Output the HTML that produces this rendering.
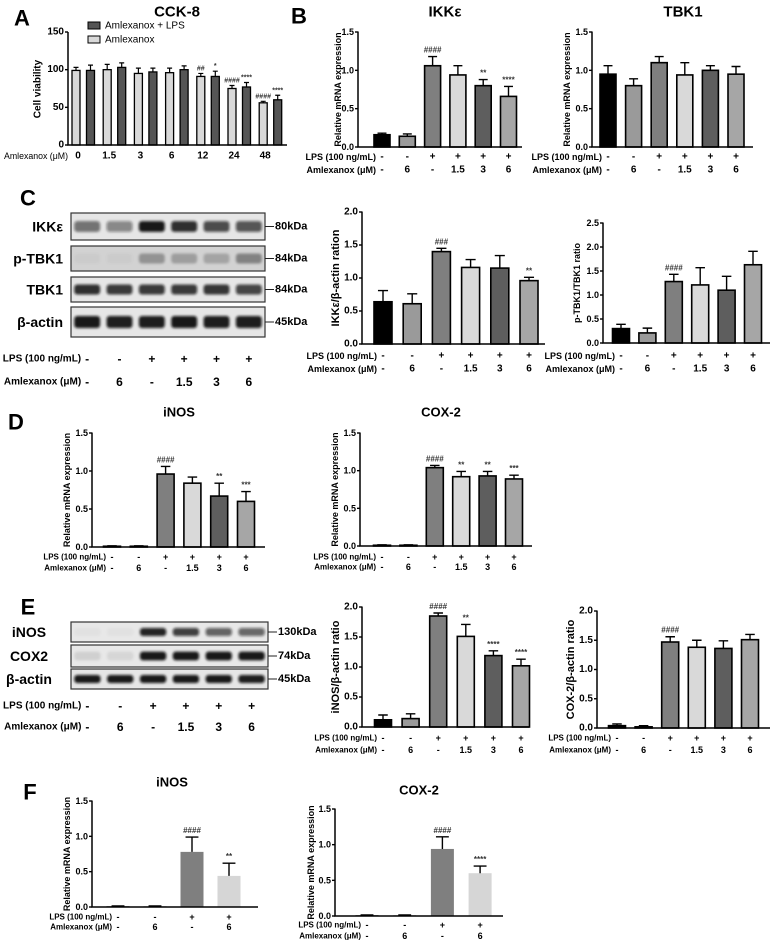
<!DOCTYPE html>
<html><head><meta charset="utf-8">
<style>
html,body{margin:0;padding:0;background:#fff;}
svg{display:block;font-family:"Liberation Sans",sans-serif;}
text{font-family:"Liberation Sans","DejaVu Sans",sans-serif;}
</style></head>
<body>
<svg id="fig" width="776" height="943" viewBox="0 0 776 943" xmlns="http://www.w3.org/2000/svg">
<defs><filter id="blur" x="-20%" y="-50%" width="140%" height="200%"><feGaussianBlur stdDeviation="1.4"/></filter></defs>
</svg>
<script>
// ---------- shared data ----------
const lps6 = ['-','-','+','+','+','+'];
const aml6 = ['-','6','-','1.5','3','6'];
const colors6 = ['#000000','#9a9a9a','#7f7f7f','#d9d9d9','#5e5e5e','#a6a6a6'];
const lps4 = ['-','-','+','+'];
const aml4 = ['-','6','-','6'];
const colors4 = ['#000000','#999999','#7f7f7f','#d6d6d6'];

// Panel A
const aCategories = ['0','1.5','3','6','12','24','48'];
const aLight = [99,100,95,96,91,75,56];
const aLightErr = [4,7,7,6,4,4,2];
const aDark = [99,103,97,100,91,77,60];
const aDarkErr = [7,6,5,5,7,6,6];
const aLightSig = ['','','','','##','####','####'];
const aDarkSig = ['','','','','*','****','****'];
const aTicks = [0,50,100,150];

// Panel B
const bIkkValues = [0.16,0.14,1.06,0.94,0.80,0.66];
const bIkkErrors = [0.02,0.03,0.12,0.12,0.08,0.13];
const bIkkSig = ['','','####','','**','****'];
const bTbkValues = [0.95,0.80,1.10,0.94,1.00,0.95];
const bTbkErrors = [0.11,0.09,0.08,0.16,0.06,0.10];
const bTbkSig = ['','','','','',''];
const ticks15 = [0,0.5,1.0,1.5];

// Panel C
const cIkkValues = [0.64,0.61,1.40,1.16,1.15,0.96];
const cIkkErrors = [0.17,0.15,0.05,0.12,0.19,0.05];
const cIkkSig = ['','','###','','','**'];
const ticks20 = [0,0.5,1.0,1.5,2.0];
const cTbkValues = [0.30,0.21,1.28,1.21,1.10,1.63];
const cTbkErrors = [0.09,0.10,0.15,0.36,0.29,0.28];
const cTbkSig = ['','','####','','',''];
const ticks25 = [0,0.5,1.0,1.5,2.0,2.5];
const cBlotIkk = [0.55,0.45,0.95,0.85,0.72,0.68];
const cBlotPtbk = [0.03,0.03,0.30,0.25,0.22,0.38];
const cBlotTbk = [0.85,0.80,0.80,0.80,0.82,0.75];
const cBlotActin = [0.95,0.92,0.93,0.95,0.93,0.93];

// Panel D
const dInosValues = [0.01,0.01,0.96,0.84,0.67,0.60];
const dInosErrors = [0.005,0.005,0.10,0.08,0.17,0.13];
const dInosSig = ['','','####','','**','***'];
const dCoxValues = [0.01,0.01,1.04,0.92,0.93,0.89];
const dCoxErrors = [0.005,0.005,0.03,0.07,0.06,0.05];
const dCoxSig = ['','','####','**','**','***'];

// Panel E
const eInosValues = [0.12,0.14,1.85,1.51,1.19,1.02];
const eInosErrors = [0.08,0.08,0.05,0.20,0.08,0.11];
const eInosSig = ['','','####','**','****','****'];
const eCoxValues = [0.04,0.02,1.47,1.38,1.36,1.51];
const eCoxErrors = [0.03,0.02,0.09,0.12,0.13,0.09];
const eCoxSig = ['','','####','','',''];
const eBlotInos = [0.03,0.03,0.90,0.78,0.62,0.60];
const eBlotCox = [0.10,0.08,0.95,0.95,0.95,0.95];
const eBlotActin = [0.95,0.95,0.95,0.95,0.95,0.93];

// Panel F
const fInosValues = [0.01,0.01,0.78,0.44];
const fInosErrors = [0.005,0.005,0.21,0.18];
const fInosSig = ['','','####','**'];
const fCoxValues = [0.01,0.01,0.94,0.60];
const fCoxErrors = [0.005,0.005,0.17,0.10];
const fCoxSig = ['','','####','****'];

// ---------- helpers ----------
const NS='http://www.w3.org/2000/svg';
const svg=document.getElementById('fig');
function mk(tag, attrs, parent){const e=document.createElementNS(NS,tag);for(const k in attrs)e.setAttribute(k,attrs[k]);(parent||svg).appendChild(e);return e;}
function txt(x,y,s,attrs,parent){const e=mk('text',Object.assign({x:x,y:y},attrs||{}),parent);e.textContent=s;return e;}
function label(x,y,s,size,name,anchor){
  const t=txt(x,y,s,{'font-size':size,'font-weight':'bold','text-anchor':anchor||'middle','dominant-baseline':'central'});
  
  
  return t;
}

function barChart(name, cfg, values, errors, sig, colors, ticks, lps, aml){
  const g=mk('g',{});
  
  
  const ys=v=>cfg.y0-(v/cfg.maxVal)*(cfg.y0-cfg.yTopPx);
  const xs=i=>cfg.x0+i*cfg.step;
  values.forEach((v,i)=>{
    const top=ys(v), x=xs(i);
    const r=mk('rect',{x:x-cfg.w/2,y:top,width:cfg.w,height:Math.max(cfg.y0-top,0.6),fill:colors[i],stroke:cfg.stroke?'#000':'none','stroke-width':cfg.stroke?1.6:0},g);
    
    
    const et=ys(v+errors[i]);
    const el=mk('path',{d:'M'+x+' '+top+'V'+et+'M'+(x-cfg.w*0.28)+' '+et+'H'+(x+cfg.w*0.28),stroke:'#000','stroke-width':1.4,fill:'none'},g);
    
    
    if(sig[i]){
      const s=txt(x,et-4,sig[i],{'font-size':8,'text-anchor':'middle',fill:'#333','font-weight':'bold'},g);
      
      
    }
  });
  const ax=mk('path',{d:'M'+cfg.ax+' '+(cfg.yTopPx-0.5)+'V'+cfg.y0+'H'+cfg.xEnd,stroke:'#000','stroke-width':1.5,fill:'none'},g);
  
  
  ticks.forEach(t=>{
    const y=ys(t);
    mk('line',{x1:cfg.ax-3,x2:cfg.ax,y1:y,y2:y,stroke:'#000','stroke-width':1.4},g);
    const tl=txt(cfg.ax-4,y,t.toFixed(1),{'font-size':cfg.tickSize||9,'font-weight':'bold','text-anchor':'end','dominant-baseline':'central'},g);
    
    
  });
  if(cfg.title){
    const tt=txt(cfg.tx,cfg.ty,cfg.title,{'font-size':cfg.titleSize||15,'font-weight':'bold','text-anchor':'middle','dominant-baseline':'central'},g);
    
    
  }
  const midY=(cfg.y0+cfg.yTopPx)/2;
  const yt=txt(cfg.ytx,midY,cfg.ytitle,{'font-size':cfg.ytSize||9,'font-weight':'bold','text-anchor':'middle','dominant-baseline':'central',transform:'rotate(-90 '+cfg.ytx+' '+midY+')'},g);
  
  
  if(lps){
    const fs=cfg.rowSize||9;
    const l1=txt(xs(0)-6,cfg.lpsY,'LPS (100 ng/mL)',{'font-size':fs,'font-weight':'bold','text-anchor':'end','dominant-baseline':'central'},g);
    
    
    const l2=txt(xs(0)-6,cfg.amlY,'Amlexanox (\u03bcM)',{'font-size':fs,'font-weight':'bold','text-anchor':'end','dominant-baseline':'central'},g);
    
    
    lps.forEach((s,i)=>{
      const a=txt(xs(i),cfg.lpsY,s,{'font-size':fs+1,'font-weight':'bold','text-anchor':'middle','dominant-baseline':'central'},g);
      
      
      const b=txt(xs(i),cfg.amlY,aml[i],{'font-size':fs+1,'font-weight':'bold','text-anchor':'middle','dominant-baseline':'central'},g);
      
      
    });
  }
}

function blotRow(name, x, y, w, h, intens, bg, lbl, lblX, anchor, kda){
  const g=mk('g',{});
  
  
  mk('rect',{x:x,y:y,width:w,height:h,fill:bg,stroke:'#333','stroke-width':1.2},g);
  const lw=w/intens.length;
  intens.forEach((v,i)=>{
    const c=x+(i+0.5)*lw;
    const b=mk('rect',{x:c-lw*0.4,y:y+h/2-h*0.2,width:lw*0.8,height:h*0.4,rx:3,fill:'#111','fill-opacity':v,filter:'url(#blur)'},g);
    
    
  });
  const t=txt(lblX,y+h/2,lbl,{'font-size':14,'font-weight':'bold','text-anchor':anchor,'dominant-baseline':'central'},g);
  
  
  mk('line',{x1:x+w,x2:x+w+9,y1:y+h/2,y2:y+h/2,stroke:'#222','stroke-width':1},g);
  const k=txt(x+w+10,y+h/2,kda,{'font-size':11,'font-weight':'bold','dominant-baseline':'central'},g);
  
  
}
function blotRows(name, x, w, lpsY, amlY, lps, aml){
  const lw=w/lps.length;
  const l1=txt(x+lw*0.5-6,lpsY,'LPS (100 ng/mL)',{'font-size':10,'font-weight':'bold','text-anchor':'end','dominant-baseline':'central'});
  
  
  const l2=txt(x+lw*0.5-6,amlY,'Amlexanox (\u03bcM)',{'font-size':10,'font-weight':'bold','text-anchor':'end','dominant-baseline':'central'});
  
  
  lps.forEach((s,i)=>{
    const c=x+(i+0.5)*lw;
    const a=txt(c,lpsY,s,{'font-size':12,'font-weight':'bold','text-anchor':'middle','dominant-baseline':'central'});
    
    
    const b=txt(c,amlY,aml[i],{'font-size':12,'font-weight':'bold','text-anchor':'middle','dominant-baseline':'central'});
    
    
  });
}

// ---------- panel letters ----------
[['A',22,18],['B',299,16],['C',28,198],['D',16,422],['E',28,607],['F',30,792]].forEach(p=>{
  label(p[1],p[2],p[0],22,'panel-letter-'+p[0].toLowerCase());
});

// ---------- Panel A ----------
(function(){
  const ax=68,y0=145,yTop=32,maxV=150,x0=76,step=31.2,w=8,off=14.5;
  const ys=v=>y0-(v/maxV)*(y0-yTop);
  const g=mk('g',{});
  
  
  function bar(x,v,e,s,fill,nm){
    const top=ys(v);
    const r=mk('rect',{x:x-w/2,y:top,width:w,height:y0-top,fill:fill,stroke:'#000','stroke-width':1.3},g);
    
    
    const et=ys(v+e);
    mk('path',{d:'M'+x+' '+top+'V'+et+'M'+(x-2.5)+' '+et+'H'+(x+2.5),stroke:'#000','stroke-width':1.2,fill:'none'},g);
    if(s){const t=txt(x,et-3,s,{'font-size':7,'text-anchor':'middle',fill:'#333','font-weight':'bold'},g);
      
      }
  }
  aCategories.forEach((c,i)=>{
    const gx=x0+i*step;
    bar(gx,aLight[i],aLightErr[i],aLightSig[i],'#d9d9d9','bar-amlexanox-'+c);
    bar(gx+off,aDark[i],aDarkErr[i],aDarkSig[i],'#555555','bar-amlexanox-lps-'+c);
    const t=txt(gx+2,156,c,{'font-size':10,'font-weight':'bold','text-anchor':'middle','dominant-baseline':'central'},g);
    
    
  });
  mk('path',{d:'M'+ax+' '+yTop+'V'+y0+'H287',stroke:'#000','stroke-width':1.5,fill:'none'},g);
  aTicks.forEach(t=>{const y=ys(t);mk('line',{x1:ax-3,x2:ax,y1:y,y2:y,stroke:'#000','stroke-width':1.4},g);
    const l=txt(ax-4,y,String(t),{'font-size':10,'font-weight':'bold','text-anchor':'end','dominant-baseline':'central'},g);
    
    });
  const yt=txt(38,89,'Cell viability',{'font-size':10,'font-weight':'bold','text-anchor':'middle','dominant-baseline':'central',transform:'rotate(-90 38 89)'},g);
  
  
  const xt=txt(4,156,'Amlexanox (\u03bcM)',{'font-size':9,'dominant-baseline':'central',textLength:64,lengthAdjust:'spacingAndGlyphs'},g);
  
  
  const tt=txt(177,12,'CCK-8',{'font-size':15,'font-weight':'bold','text-anchor':'middle','dominant-baseline':'central'},g);
  
  
  const l1=mk('rect',{x:88,y:22,width:12,height:7,fill:'#555',stroke:'#000','stroke-width':1},g);
  
  
  const lt1=txt(105,26,'Amlexanox + LPS',{'font-size':10,'dominant-baseline':'central'},g);
  
  
  const l2=mk('rect',{x:88,y:36,width:12,height:7,fill:'#d9d9d9',stroke:'#000','stroke-width':1},g);
  
  
  const lt2=txt(105,40,'Amlexanox',{'font-size':10,'dominant-baseline':'central'},g);
  
  
})();

// ---------- Panel B ----------
barChart('ikke-mrna-chart',{ax:358,y0:147,yTopPx:32,maxVal:1.5,x0:382,step:25.3,w:16,xEnd:522,stroke:true,title:'IKK\u03b5',tx:445,ty:12,ytitle:'Relative mRNA expression',ytx:338,lpsY:157,amlY:170},bIkkValues,bIkkErrors,bIkkSig,colors6,ticks15,lps6,aml6);
barChart('tbk1-mrna-chart',{ax:592,y0:147,yTopPx:32,maxVal:1.5,x0:608,step:25.6,w:16,xEnd:753,stroke:true,title:'TBK1',tx:683,ty:12,ytitle:'Relative mRNA expression',ytx:567,lpsY:157,amlY:170},bTbkValues,bTbkErrors,bTbkSig,colors6,ticks15,lps6,aml6);

// ---------- Panel C ----------
blotRow('blot-c-ikke',71,213,194,27,cBlotIkk,'#e6e6e6','IKK\u03b5',63,'end','80kDa');
blotRow('blot-c-ptbk1',71,246,194,25,cBlotPtbk,'#d2d2d2','p-TBK1',63,'end','84kDa');
blotRow('blot-c-tbk1',71,277,194,25,cBlotTbk,'#e6e6e6','TBK1',63,'end','84kDa');
blotRow('blot-c-actin',71,307,194,30,cBlotActin,'#e6e6e6','\u03b2-actin',63,'end','45kDa');
blotRows('blot-c',71,194,359,382,lps6,aml6);
barChart('ikke-ratio-chart',{ax:362,y0:344,yTopPx:212,maxVal:2.0,x0:383,step:29.2,w:18,xEnd:545,stroke:true,ytitle:'IKK\u03b5/\u03b2-actin ration',ytx:336,ytSize:11,tickSize:10,lpsY:356,amlY:369},cIkkValues,cIkkErrors,cIkkSig,colors6,ticks20,lps6,aml6);
barChart('ptbk1-ratio-chart',{ax:603,y0:343,yTopPx:223,maxVal:2.5,x0:621,step:26.4,w:17,xEnd:770,stroke:true,ytitle:'p-TBK1/TBK1 ratio',ytx:577,lpsY:356,amlY:369},cTbkValues,cTbkErrors,cTbkSig,colors6,ticks25,lps6,aml6);

// ---------- Panel D ----------
barChart('inos-mrna-chart-d',{ax:92,y0:547,yTopPx:433,maxVal:1.5,x0:112,step:26.8,w:17,xEnd:265,stroke:true,title:'iNOS',tx:179,ty:412,titleSize:13,ytitle:'Relative mRNA expression',ytx:67,lpsY:557,amlY:568,rowSize:8},dInosValues,dInosErrors,dInosSig,colors6,ticks15,lps6,aml6);
barChart('cox2-mrna-chart-d',{ax:360,y0:546,yTopPx:433,maxVal:1.5,x0:382,step:26.4,w:17,xEnd:532,stroke:true,title:'COX-2',tx:441,ty:412,titleSize:13,ytitle:'Relative mRNA expression',ytx:335,lpsY:557,amlY:567,rowSize:8},dCoxValues,dCoxErrors,dCoxSig,colors6,ticks15,lps6,aml6);

// ---------- Panel E ----------
blotRow('blot-e-inos',71,622,197,20,eBlotInos,'#e8e8e8','iNOS',29,'middle','130kDa');
blotRow('blot-e-cox2',71,645,197,22,eBlotCox,'#e8e8e8','COX2',29,'middle','74kDa');
blotRow('blot-e-actin',71,669,197,20,eBlotActin,'#e6e6e6','\u03b2-actin',29,'middle','45kDa');
blotRows('blot-e',71,197,706,727,lps6,aml6);
barChart('inos-ratio-chart',{ax:362,y0:727,yTopPx:607,maxVal:2.0,x0:383,step:27.6,w:17,xEnd:529,stroke:true,ytitle:'iNOS/\u03b2-actin ratio',ytx:336,ytSize:11,tickSize:10,lpsY:738,amlY:750,rowSize:8},eInosValues,eInosErrors,eInosSig,colors6,ticks20,lps6,aml6);
barChart('cox2-ratio-chart',{ax:597,y0:728,yTopPx:611,maxVal:2.0,x0:617,step:26.6,w:17,xEnd:770,stroke:true,ytitle:'COX-2/\u03b2-actin ratio',ytx:571,ytSize:11,tickSize:10,lpsY:738,amlY:750,rowSize:8},eCoxValues,eCoxErrors,eCoxSig,colors6,ticks20,lps6,aml6);

// ---------- Panel F ----------
barChart('inos-mrna-chart-f',{ax:92,y0:907,yTopPx:801,maxVal:1.5,x0:118,step:37,w:23,xEnd:258,stroke:false,title:'iNOS',tx:172,ty:782,titleSize:13,ytitle:'Relative mRNA expression',ytx:67,lpsY:917,amlY:927,rowSize:8},fInosValues,fInosErrors,fInosSig,colors4,ticks15,lps4,aml4);
barChart('cox2-mrna-chart-f',{ax:335,y0:916,yTopPx:809,maxVal:1.5,x0:367,step:37.7,w:23,xEnd:503,stroke:false,title:'COX-2',tx:419,ty:790,titleSize:13,ytitle:'Relative mRNA expression',ytx:311,lpsY:925,amlY:936,rowSize:8},fCoxValues,fCoxErrors,fCoxSig,colors4,ticks15,lps4,aml4);
</script>
</body></html>
